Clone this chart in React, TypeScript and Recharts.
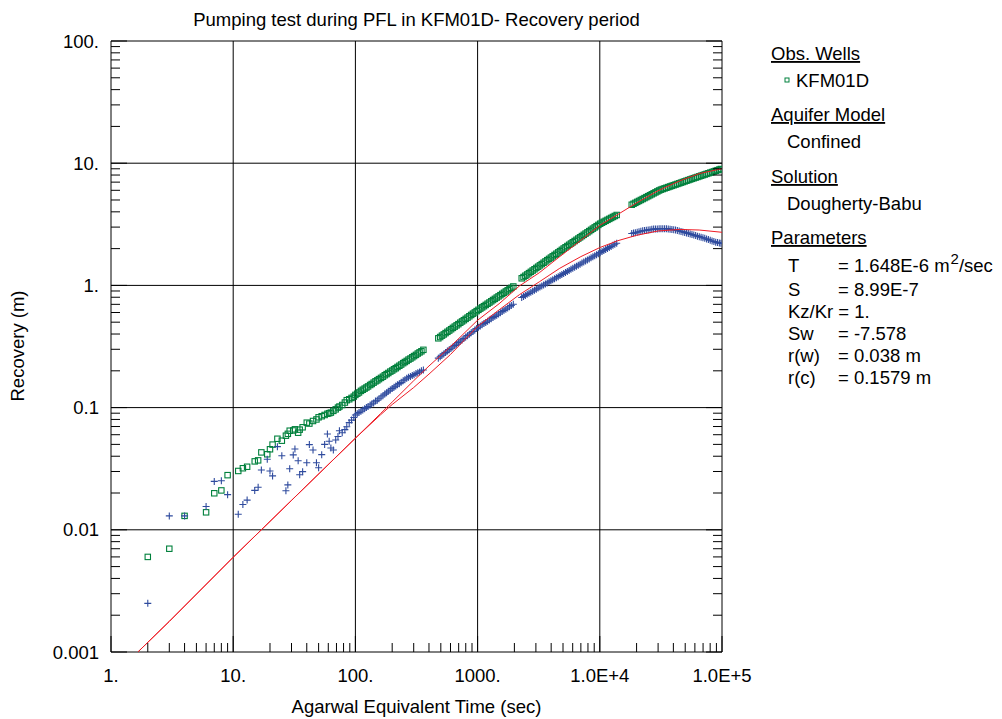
import React from 'react';
import { ScatterChart, Scatter, XAxis, YAxis, ReferenceLine } from 'recharts';

const GREEN = '#00803c';
const BLUE = '#2f4b9e';
const RED = '#ee1c25';
const FONT = '"Liberation Sans", Arial, sans-serif';

// axis decades and their labels
const xMajorTicks = [1, 10, 100, 1000, 10000, 100000];
const xTickLabels = ['1.', '10.', '100.', '1000.', '1.0E+4', '1.0E+5'];
const yMajorTicks = [0.001, 0.01, 0.1, 1, 10, 100];
const yTickLabels = ['0.001', '0.01', '0.1', '1.', '10.', '100.'];
const minorSteps = [2, 3, 4, 5, 6, 7, 8, 9];

// early recovery readings (sec / m)
const earlyTime = [2, 3, 4, 6, 7, 8, 9, 11, 12, 13, 15, 16, 17, 19, 20, 21, 23, 25, 27, 28, 29, 31, 32, 34, 35, 37, 40, 42, 45, 48, 50, 53, 56, 59, 61, 63, 66, 69, 72, 74, 78, 82, 85, 89, 93, 97];
const earlyRecovery = [0.006, 0.007, 0.013, 0.0139, 0.0199, 0.021, 0.028, 0.0303, 0.0319, 0.0328, 0.0363, 0.037, 0.043, 0.0415, 0.0456, 0.0498, 0.0556, 0.0536, 0.0589, 0.061, 0.0647, 0.065, 0.0664, 0.0623, 0.066, 0.069, 0.0753, 0.074, 0.0777, 0.08, 0.0833, 0.085, 0.087, 0.089, 0.09, 0.091, 0.094, 0.0968, 0.1, 0.102, 0.105, 0.11, 0.115, 0.117, 0.12, 0.123];
const earlyDerivative = [0.0025, 0.013, 0.013, 0.0155, 0.0249, 0.0252, 0.0194, 0.0134, 0.0161, 0.0175, 0.021, 0.0223, 0.0309, 0.0378, 0.0303, 0.0276, 0.0479, 0.0404, 0.0209, 0.0233, 0.0316, 0.041, 0.0458, 0.0367, 0.0282, 0.0299, 0.0354, 0.0498, 0.045, 0.0354, 0.0322, 0.0412, 0.05, 0.0608, 0.053, 0.0467, 0.045, 0.0543, 0.058, 0.0647, 0.0623, 0.066, 0.0698, 0.0753, 0.079, 0.083];

// logged recovery, four blocks between logger gaps
const lateTime = [
  100, 103.5, 107, 111, 115, 119, 123, 127, 132, 136, 141, 146, 151, 156, 162, 168, 174, 180, 186, 193,
  200, 207, 214, 221, 229, 237, 246, 254, 263, 272, 282, 292, 302, 313, 324, 335, 347, 360,
  477, 494, 511, 529, 547, 566, 586, 607, 628, 650, 673, 696, 721, 746, 772, 799, 827, 856, 886, 917,
  949, 982, 1016, 1052, 1089, 1127, 1166, 1207, 1249, 1293, 1338, 1385, 1434, 1484, 1536, 1590, 1645, 1703, 1762, 1824, 1888, 1960,
  2296, 2376, 2459, 2545, 2634, 2726, 2822, 2920, 3023, 3128, 3238, 3351, 3468, 3590, 3715, 3845, 3980, 4119, 4263, 4412,
  4567, 4727, 4892, 5063, 5240, 5424, 5614, 5810, 6013, 6224, 6442, 6667, 6900, 7142, 7392, 7650, 7918, 8195, 8482, 8779,
  9086, 9404, 9733, 10074, 10426, 10791, 11169, 11560, 11964, 12383, 12817, 13265, 13750,
  18250, 18889, 19550, 20234, 20942, 21675, 22434, 23219, 24032, 24873, 25744, 26645, 27577, 28542, 29541, 30575, 31645, 32753, 33899, 35086,
  36314, 37585, 38900, 40262, 41671, 43129, 44639, 46201, 47818, 49492, 51224, 53017, 54873, 56793, 58781, 60838, 62968, 65172, 67453, 69814,
  72257, 74786, 77403, 80112, 82916, 85818, 88822, 91931, 95148, 98000,
];
const lateRecovery = [
  0.127, 0.130, 0.133, 0.137, 0.140, 0.143, 0.146, 0.149, 0.153, 0.156, 0.160, 0.164, 0.167, 0.171, 0.175, 0.179, 0.184, 0.188, 0.192, 0.197,
  0.201, 0.206, 0.210, 0.215, 0.220, 0.225, 0.231, 0.236, 0.241, 0.247, 0.252, 0.258, 0.264, 0.270, 0.277, 0.283, 0.289, 0.297,
  0.369, 0.378, 0.388, 0.397, 0.407, 0.417, 0.427, 0.438, 0.449, 0.460, 0.471, 0.482, 0.495, 0.507, 0.519, 0.532, 0.545, 0.559, 0.573, 0.587,
  0.601, 0.616, 0.631, 0.646, 0.661, 0.676, 0.692, 0.708, 0.724, 0.741, 0.759, 0.776, 0.795, 0.813, 0.832, 0.852, 0.871, 0.892, 0.912, 0.934, 0.955, 0.980,
  1.143, 1.171, 1.200, 1.229, 1.260, 1.291, 1.323, 1.355, 1.389, 1.423, 1.459, 1.495, 1.532, 1.570, 1.609, 1.648, 1.689, 1.730, 1.773, 1.816,
  1.862, 1.908, 1.955, 2.004, 2.051, 2.100, 2.150, 2.201, 2.253, 2.307, 2.361, 2.417, 2.474, 2.533, 2.593, 2.654, 2.716, 2.781, 2.847, 2.914,
  2.983, 3.053, 3.126, 3.197, 3.256, 3.316, 3.377, 3.439, 3.502, 3.566, 3.632, 3.698, 3.769,
  4.571, 4.654, 4.738, 4.825, 4.911, 5.0, 5.09, 5.182, 5.276, 5.371, 5.469, 5.568, 5.669, 5.771, 5.876, 5.982, 6.075, 6.149, 6.223, 6.297,
  6.374, 6.451, 6.529, 6.608, 6.687, 6.767, 6.849, 6.931, 7.016, 7.101, 7.187, 7.273, 7.362, 7.45, 7.54, 7.627, 7.715, 7.806, 7.897, 7.989,
  8.082, 8.177, 8.273, 8.369, 8.466, 8.566, 8.665, 8.77, 8.872, 8.962,
];
const lateDerivative = [
  0.0871, 0.0891, 0.0910, 0.0933, 0.0957, 0.0980, 0.100, 0.102, 0.105, 0.107, 0.109, 0.113, 0.115, 0.118, 0.122, 0.125, 0.129, 0.132, 0.136, 0.139,
  0.143, 0.147, 0.150, 0.154, 0.157, 0.161, 0.166, 0.169, 0.174, 0.177, 0.180, 0.183, 0.186, 0.190, 0.193, 0.196, 0.200, 0.203,
  0.254, 0.261, 0.268, 0.275, 0.282, 0.290, 0.298, 0.306, 0.314, 0.322, 0.331, 0.340, 0.349, 0.358, 0.368, 0.378, 0.388, 0.398, 0.409, 0.420,
  0.431, 0.443, 0.455, 0.465, 0.476, 0.487, 0.498, 0.510, 0.521, 0.533, 0.545, 0.558, 0.571, 0.584, 0.597, 0.611, 0.625, 0.639, 0.654, 0.669, 0.684, 0.702,
  0.796, 0.812, 0.828, 0.845, 0.861, 0.878, 0.896, 0.913, 0.932, 0.950, 0.969, 0.988, 1.008, 1.028, 1.048, 1.069, 1.090, 1.112, 1.134, 1.156,
  1.179, 1.203, 1.227, 1.251, 1.276, 1.301, 1.327, 1.354, 1.380, 1.408, 1.436, 1.464, 1.493, 1.523, 1.554, 1.585, 1.616, 1.648, 1.680, 1.714,
  1.748, 1.782, 1.818, 1.854, 1.891, 1.929, 1.967, 2.006, 2.046, 2.086, 2.128, 2.170, 2.215,
  2.66, 2.68, 2.70, 2.725, 2.75, 2.775, 2.80, 2.815, 2.83, 2.845, 2.86, 2.875, 2.89, 2.895, 2.90, 2.905, 2.91, 2.91, 2.91, 2.905,
  2.90, 2.885, 2.87, 2.855, 2.84, 2.815, 2.79, 2.765, 2.74, 2.715, 2.69, 2.665, 2.64, 2.61, 2.58, 2.555, 2.53, 2.505, 2.48, 2.455,
  2.43, 2.40, 2.37, 2.34, 2.31, 2.285, 2.26, 2.24, 2.22, 2.21,
];

// Dougherty-Babu type curves
const fitTime = [1.66, 3, 10, 30, 100, 160, 200, 300, 400, 600, 1000, 1500, 2200, 3200, 4700, 7000, 10000, 14000, 20000, 30000, 45000, 65000, 100000];
const fitRecovery = [0.001, 0.00178, 0.00596, 0.0174, 0.0562, 0.089, 0.111, 0.166, 0.219, 0.316, 0.519, 0.708, 0.99, 1.27, 1.72, 2.34, 3.1, 3.8, 4.73, 5.96, 7.16, 8.22, 9.02];
const fitDerivative = [0.001, 0.00178, 0.00596, 0.0174, 0.0562, 0.087, 0.106, 0.146, 0.188, 0.272, 0.462, 0.631, 0.84, 1.07, 1.38, 1.72, 2.04, 2.32, 2.57, 2.79, 2.87, 2.84, 2.72];

const gridX = [10, 100, 1000, 10000];
const gridY = [0.01, 0.1, 1, 10];

const legendSections = ['Obs. Wells', 'Aquifer Model', 'Solution', 'Parameters'];
const paramNames = ['T', 'S', 'Sw', 'r(w)', 'r(c)'];
const paramValues = ['= 1.648E-6 m', '= 8.99E-7', '= -7.578', '= 0.038 m', '= 0.1579 m'];

const toPoints = (xs: number[], ys: number[]) => xs.map((x, i) => ({ x, y: ys[i] }));

const recoveryData = [...toPoints(earlyTime, earlyRecovery), ...toPoints(lateTime, lateRecovery)];
const derivativeData = [...toPoints(earlyTime, earlyDerivative), ...toPoints(lateTime, lateDerivative)];
const fitRecoveryData = toPoints(fitTime, fitRecovery);
const fitDerivativeData = toPoints(fitTime, fitDerivative);

const withMinors = (majors: number[]) => [
  ...majors,
  ...majors.slice(0, -1).flatMap((d) => minorSteps.map((m) => m * d)),
];
const xTicks = withMinors(xMajorTicks);
const yTicks = withMinors(yMajorTicks);

const SquareDot = (props: any) => {
  const { cx, cy } = props;
  if (cx == null || cy == null) return <g />;
  return <rect x={cx - 2.7} y={cy - 2.7} width={5.4} height={5.4} fill="none" stroke={GREEN} strokeWidth={1.1} />;
};

const CrossDot = (props: any) => {
  const { cx, cy } = props;
  if (cx == null || cy == null) return <g />;
  return <path d={`M${cx - 3.5},${cy}h7M${cx},${cy - 3.5}v7`} stroke={BLUE} strokeWidth={1.1} fill="none" />;
};

const NoDot = () => <g />;

const tickLen = (isMajor: boolean) => (isMajor ? 16 : 9);

const BottomTick = (props: any) => {
  const { x, y, payload } = props;
  const i = xMajorTicks.indexOf(payload.value);
  return (
    <g>
      <line x1={x} x2={x} y1={y} y2={y - tickLen(i >= 0)} stroke="#000" />
      {i >= 0 && (
        <text x={x} y={y + 30} textAnchor="middle" fontSize={18.5} fill="#000" fontFamily={FONT}>
          {xTickLabels[i]}
        </text>
      )}
    </g>
  );
};

const TopTick = (props: any) => {
  const { x, y, payload } = props;
  const major = xMajorTicks.includes(payload.value);
  return <line x1={x} x2={x} y1={y} y2={y + tickLen(major)} stroke="#000" />;
};

const LeftTick = (props: any) => {
  const { x, y, payload } = props;
  const i = yMajorTicks.indexOf(payload.value);
  return (
    <g>
      <line x1={x} x2={x + tickLen(i >= 0)} y1={y} y2={y} stroke="#000" />
      {i >= 0 && (
        <text x={x - 12} y={y + 6.5} textAnchor="end" fontSize={18.5} fill="#000" fontFamily={FONT}>
          {yTickLabels[i]}
        </text>
      )}
    </g>
  );
};

const RightTick = (props: any) => {
  const { x, y, payload } = props;
  const major = yMajorTicks.includes(payload.value);
  return <line x1={x} x2={x - tickLen(major)} y1={y} y2={y} stroke="#000" />;
};

const Legend = () => {
  const sectionY = [60, 121, 183, 244];
  const paramY = [272, 296, 340, 362, 384];
  return (
    <svg width={1002} height={719} style={{ position: 'absolute', left: 0, top: 0, pointerEvents: 'none' }} fontFamily={FONT} fontSize={18.5} fill="#000">
      <text x={416.5} y={26} textAnchor="middle">Pumping test during PFL in KFM01D- Recovery period</text>
      <text x={416.5} y={713} textAnchor="middle">Agarwal Equivalent Time (sec)</text>
      <text transform="translate(24,346) rotate(-90)" textAnchor="middle">Recovery (m)</text>

      {legendSections.map((s, i) => (
        <text key={s} x={771} y={sectionY[i]} style={{ textDecoration: 'underline' }}>{s}</text>
      ))}
      <rect x={785} y={78} width={4} height={4} fill="none" stroke={GREEN} strokeWidth={1} />
      <text x={796} y={87}>KFM01D</text>
      <text x={787} y={148}>Confined</text>
      <text x={787} y={210}>Dougherty-Babu</text>

      {paramNames.map((p, i) => (
        <g key={p}>
          <text x={788} y={paramY[i]}>{p}</text>
          <text x={838} y={paramY[i]}>
            {paramValues[i]}
            {i === 0 && (
              <>
                <tspan dx={1} dy={-8} fontSize={15}>2</tspan>
                <tspan dy={8}>/sec</tspan>
              </>
            )}
          </text>
        </g>
      ))}
      <text x={788} y={318}>Kz/Kr = 1.</text>
    </svg>
  );
};

export default function App() {
  return (
    <div style={{ position: 'absolute', left: 0, top: 0, width: 1002, height: 719, background: '#fff', fontFamily: FONT }}>
      <ScatterChart width={1002} height={719} margin={{ top: 40, right: 279, bottom: 66, left: 110 }}>
        <XAxis
          type="number"
          dataKey="x"
          scale="log"
          domain={[1, 100000]}
          allowDataOverflow
          ticks={xTicks}
          interval={0}
          height={1}
          tickSize={0}
          tickMargin={0}
          tickLine={false}
          tick={<BottomTick />}
          axisLine={{ stroke: '#000' }}
        />
        <XAxis
          xAxisId="top"
          orientation="top"
          type="number"
          scale="log"
          domain={[1, 100000]}
          allowDataOverflow
          ticks={xTicks}
          interval={0}
          height={1}
          tickSize={0}
          tickMargin={0}
          tickLine={false}
          tick={<TopTick />}
          axisLine={{ stroke: '#000' }}
        />
        <YAxis
          type="number"
          dataKey="y"
          scale="log"
          domain={[0.001, 100]}
          allowDataOverflow
          ticks={yTicks}
          interval={0}
          width={1}
          tickSize={0}
          tickMargin={0}
          tickLine={false}
          tick={<LeftTick />}
          axisLine={{ stroke: '#000' }}
        />
        <YAxis
          yAxisId="right"
          orientation="right"
          type="number"
          scale="log"
          domain={[0.001, 100]}
          allowDataOverflow
          ticks={yTicks}
          interval={0}
          width={1}
          tickSize={0}
          tickMargin={0}
          tickLine={false}
          tick={<RightTick />}
          axisLine={{ stroke: '#000' }}
        />
        {gridX.map((v) => (
          <ReferenceLine key={`gx${v}`} x={v} stroke="#000" strokeWidth={1} />
        ))}
        {gridY.map((v) => (
          <ReferenceLine key={`gy${v}`} y={v} stroke="#000" strokeWidth={1} />
        ))}
        <Scatter name="KFM01D" data={recoveryData} shape={<SquareDot />} isAnimationActive={false} />
        <Scatter name="derivative" data={derivativeData} shape={<CrossDot />} isAnimationActive={false} />
        <Scatter data={fitRecoveryData} shape={<NoDot />} line={{ stroke: RED, strokeWidth: 1 }} isAnimationActive={false} />
        <Scatter data={fitDerivativeData} shape={<NoDot />} line={{ stroke: RED, strokeWidth: 1 }} isAnimationActive={false} />
      </ScatterChart>
      <Legend />
    </div>
  );
}
